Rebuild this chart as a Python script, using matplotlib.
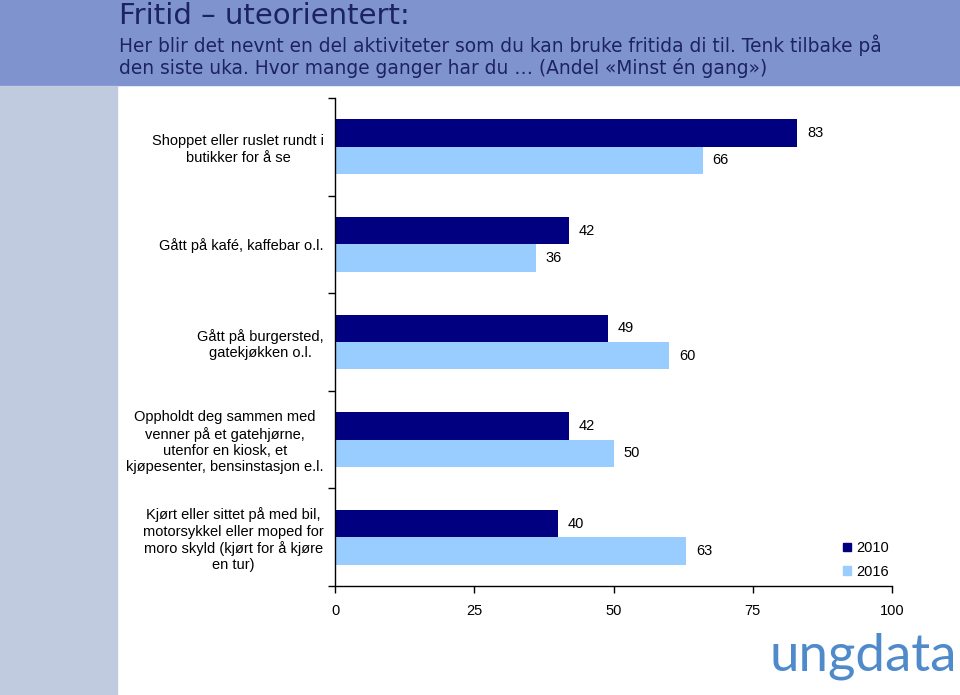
import matplotlib
matplotlib.use("Agg")
import matplotlib.pyplot as plt
from matplotlib.patches import Rectangle, Patch

plt.rcParams['font.family'] = ['Liberation Sans', 'DejaVu Sans']

# data
categories = [
    "Shoppet eller ruslet rundt i\nbutikker for å se",
    "Gått på kafé, kaffebar o.l.",
    "Gått på burgersted,\ngatekjøkken o.l.",
    "Oppholdt deg sammen med\nvenner på et gatehjørne,\nutenfor en kiosk, et\nkjøpesenter, bensinstasjon e.l.",
    "Kjørt eller sittet på med bil,\nmotorsykkel eller moped for\nmoro skyld (kjørt for å kjøre\nen tur)",
]
v2010 = [83, 42, 49, 42, 40]
v2016 = [66, 36, 60, 50, 63]
years = ["2010", "2016"]
xticks = [0, 25, 50, 75, 100]

title = "Fritid – uteorientert:"
subtitle = ("Her blir det nevnt en del aktiviteter som du kan bruke fritida di til. Tenk tilbake på\n"
            "den siste uka. Hvor mange ganger har du … (Andel «Minst én gang»)")

c2010 = "#000080"
c2016 = "#99CCFF"
header_col = "#7F93CF"
strip_col = "#C0CBDF"
text_col = "#1C2262"

W, H = 960, 695
fig = plt.figure(figsize=(W / 100, H / 100), dpi=100)

# background bands
fig.patches.append(Rectangle((0, 1 - 85 / H), 1, 85 / H, transform=fig.transFigure,
                             color=header_col, zorder=0))
fig.patches.append(Rectangle((0, 0), 117 / W, 1 - 86 / H, transform=fig.transFigure,
                             color=strip_col, zorder=0))

fig.text(119 / W, 1 - 24 / H, title, fontsize=21, color=text_col, va='baseline', ha='left',
         family='DejaVu Sans')
fig.text(119 / W, 1 - 56 / H, subtitle, fontsize=13.4, color=text_col, va='center', ha='left',
         linespacing=1.15, family='DejaVu Sans')

# axes
ax = fig.add_axes([335 / W, (H - 586) / H, (892 - 335) / W, (586 - 98) / H])
ypos = list(range(len(categories)))
bh = 0.28
ax.barh([y - bh / 2 for y in ypos], v2010, height=bh, color=c2010, label=years[0])
ax.barh([y + bh / 2 for y in ypos], v2016, height=bh, color=c2016, label=years[1])

for y, v in zip(ypos, v2010):
    ax.text(v + 1.8, y - bh / 2, str(v), va='center', ha='left', fontsize=10.5)
for y, v in zip(ypos, v2016):
    ax.text(v + 1.8, y + bh / 2, str(v), va='center', ha='left', fontsize=10.5)

ax.set_xlim(0, 100)
ax.set_ylim(len(categories) - 0.5, -0.5)
ax.set_xticks(xticks)
ax.set_xticklabels([str(t) for t in xticks], fontsize=10.5)
ax.set_yticks(ypos)
ax.set_yticklabels(categories, fontsize=10.5, multialignment='center')
ax.set_yticks([y - 0.5 for y in range(len(categories) + 1)], minor=True)
ax.tick_params(axis='y', which='major', length=0, pad=8)
ax.tick_params(axis='y', which='minor', length=5, direction='out', width=1)
ax.tick_params(axis='x', length=5, direction='out', width=1, pad=8)
for s in ['top', 'right']:
    ax.spines[s].set_visible(False)
for s in ['left', 'bottom']:
    ax.spines[s].set_linewidth(1)

handles = [Patch(color=c2010), Patch(color=c2016)]
fig.legend(handles, years, loc='upper left', bbox_to_anchor=(830 / W, 1 - 528 / H),
           frameon=False, fontsize=10.5, handlelength=0.55, handleheight=0.55,
           handletextpad=0.35, labelspacing=0.65)

# logo text
fig.text(957 / W, 1 - 671 / H, "ungdata", fontsize=38, color="#4F8ACB",
         family=['Lato', 'DejaVu Sans'], ha='right', va='baseline')

fig.savefig("out.png", dpi=100)
